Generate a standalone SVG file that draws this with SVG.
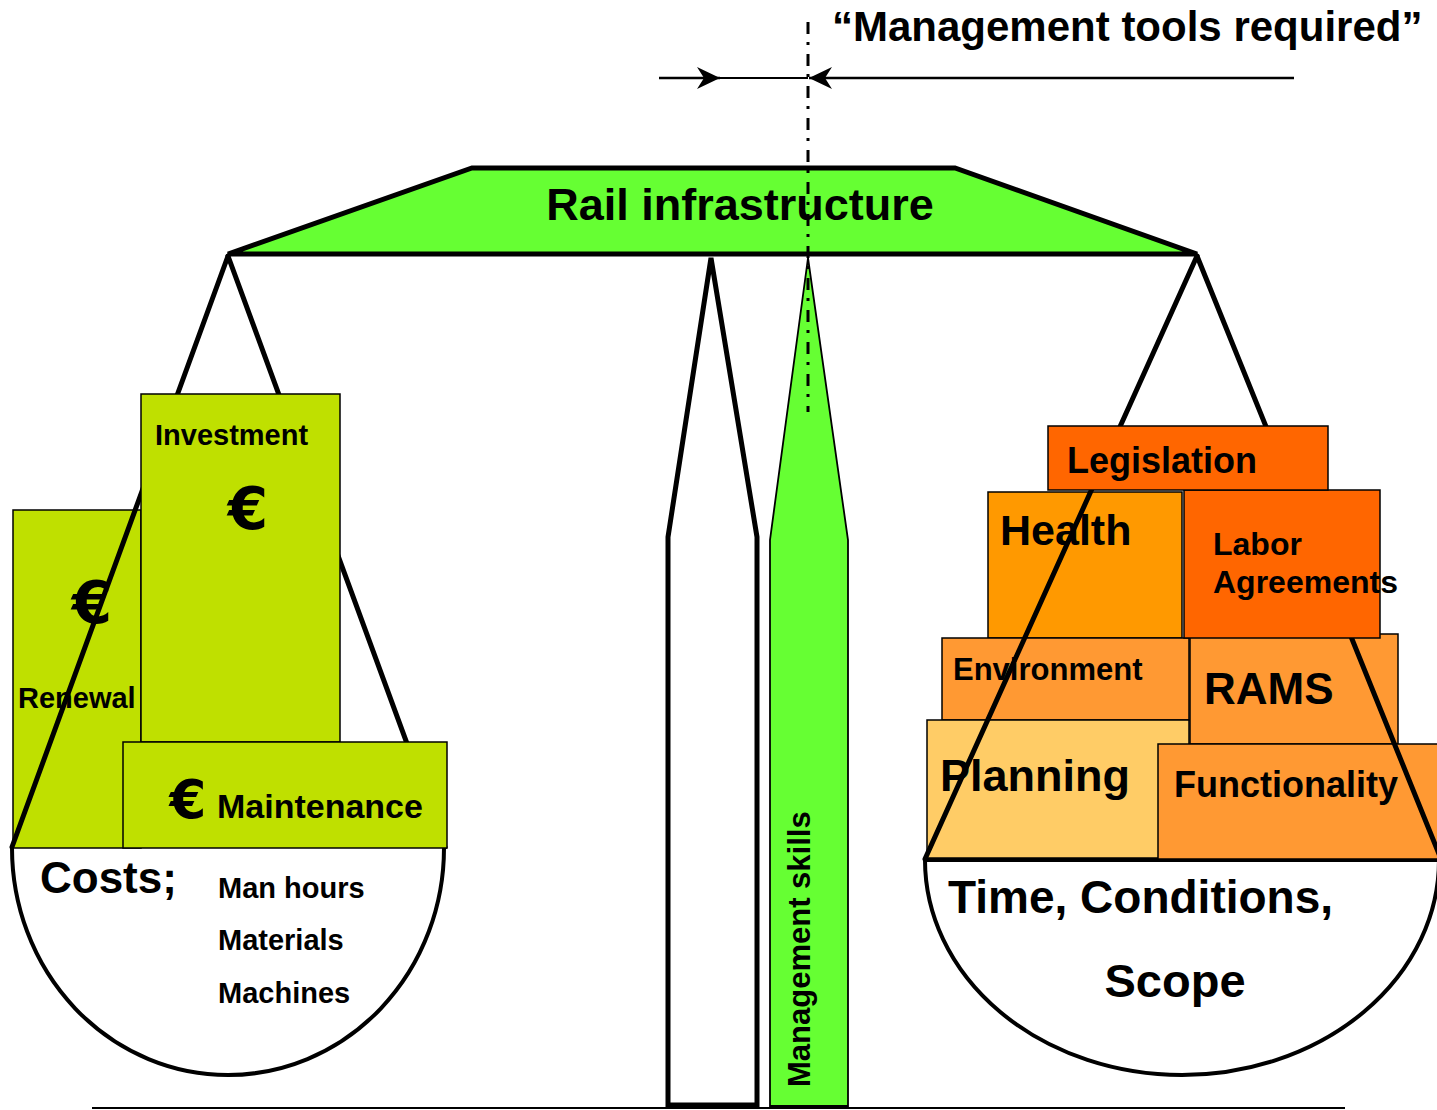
<svg xmlns="http://www.w3.org/2000/svg" width="1437" height="1110" viewBox="0 0 1437 1110">
<style>
text{font-family:"Liberation Sans",Arial,sans-serif;font-weight:bold;fill:#000}
text.eur{font-family:"DejaVu Sans","Liberation Sans",sans-serif;font-weight:bold}
.box{stroke:#000;stroke-width:1.5}
.yg{fill:#BFE000}
.o1{fill:#FF6600}
.o2{fill:#FF9900}
.o3{fill:#FF9933}
.o4{fill:#FFCC66}
.hang{stroke:#000;stroke-width:5;fill:none;stroke-linecap:round}
.bowl{fill:#fff;stroke:#000;stroke-width:4}
</style>
<defs>
<marker id="ah" viewBox="0 0 24 24" refX="23" refY="12" markerWidth="24" markerHeight="24" markerUnits="userSpaceOnUse" orient="auto">
<path d="M23,12 L0,1 L7,12 L0,23 Z" fill="#000"/>
</marker>
</defs>
<rect width="1437" height="1110" fill="#fff"/>

<!-- floor -->
<line x1="92" y1="1108" x2="1345" y2="1108" stroke="#000" stroke-width="2"/>

<!-- pillars -->
<g id="pillar">
<polygon points="711,258 668,537 668,1105 757,1105 757,537" fill="#fff" stroke="#000" stroke-width="5" stroke-linejoin="miter"/>
</g>
<g id="management-skills">
<polygon points="808,258 770,540 770,1106 848,1106 848,540" fill="#66FF33" stroke="#000" stroke-width="1.8"/>
<text transform="translate(810,1087) rotate(-90)" font-size="31">Management skills</text>
</g>

<!-- beam -->
<g id="rail-infrastructure">
<polygon points="472,168 955,168 1197,254 228,254" fill="#66FF33" stroke="#000" stroke-width="5" stroke-linejoin="miter"/>
<text x="740" y="220" font-size="45" text-anchor="middle">Rail infrastructure</text>
</g>

<!-- left pan -->
<g id="left-bowl">
<path class="bowl" d="M12,848 A216,227 0 0 0 444,848"/>
<text x="40" y="893" font-size="44">Costs;</text>
<text x="218" y="898" font-size="29">Man hours</text>
<text x="218" y="950" font-size="29">Materials</text>
<text x="218" y="1003" font-size="29">Machines</text>
</g>
<g id="renewal">
<rect class="box yg" x="13" y="510" width="128" height="338"/>
<text class="eur" x="92" y="623" font-size="58" text-anchor="middle">€</text>
<text x="18" y="708" font-size="29">Renewal</text>
</g>
<g id="left-hangers">
<line class="hang" x1="228" y1="256" x2="12" y2="847"/>
<line class="hang" x1="228" y1="256" x2="445" y2="847"/>
</g>
<g id="investment">
<rect class="box yg" x="141" y="394" width="199" height="348"/>
<text x="155" y="445" font-size="29">Investment</text>
<text class="eur" x="248" y="529" font-size="58" text-anchor="middle">€</text>
</g>
<g id="maintenance">
<rect class="box yg" x="123" y="742" width="324" height="106"/>
<text class="eur" x="188" y="818" font-size="53" text-anchor="middle">€</text>
<text x="217" y="818" font-size="34">Maintenance</text>
</g>

<!-- right pan -->
<g id="right-bowl">
<path class="bowl" d="M925,860 A257,215 0 0 0 1439,860 Z"/>
<text x="948" y="913" font-size="46">Time, Conditions,</text>
<text x="1175" y="997" font-size="47" text-anchor="middle">Scope</text>
</g>
<g id="health">
<rect class="box o2" x="988" y="492" width="194" height="146"/>
<text x="1000" y="545" font-size="43">Health</text>
</g>
<g id="environment">
<rect class="box o3" x="942" y="638" width="247" height="82"/>
<text x="953" y="680" font-size="31">Environment</text>
</g>
<g id="rams">
<rect class="box o3" x="1190" y="634" width="208" height="110"/>
<text x="1204" y="704" font-size="44">RAMS</text>
</g>
<g id="planning">
<rect class="box o4" x="927" y="720" width="262" height="138"/>
<text x="940" y="791" font-size="45">Planning</text>
</g>
<g id="functionality">
<rect class="box o3" x="1158" y="744" width="285" height="115"/>
<text x="1174" y="797" font-size="36">Functionality</text>
</g>
<g id="right-hangers">
<line class="hang" x1="1197" y1="256" x2="925" y2="859"/>
<line class="hang" x1="1197" y1="256" x2="1441" y2="859"/>
</g>
<g id="labor-agreements">
<rect class="box o1" x="1184" y="490" width="196" height="148"/>
<text x="1213" y="555" font-size="32">Labor</text>
<text x="1213" y="593" font-size="32">Agreements</text>
</g>
<g id="legislation">
<rect class="box o1" x="1048" y="426" width="280" height="64"/>
<text x="1067" y="473" font-size="36">Legislation</text>
</g>

<!-- top annotation -->
<g id="connectors">
<line x1="720" y1="78" x2="808" y2="78" stroke="#000" stroke-width="2"/>
<line x1="659" y1="78" x2="720" y2="78" stroke="#000" stroke-width="2.5" marker-end="url(#ah)"/>
<line x1="1294" y1="78" x2="809" y2="78" stroke="#000" stroke-width="2.5" marker-end="url(#ah)"/>
<line x1="808" y1="22" x2="808" y2="412" stroke="#000" stroke-width="3" stroke-dasharray="12 8 3 9"/>
</g>
<g id="management-tools">
<text x="832" y="41" font-size="42">“Management tools required”</text>
</g>
</svg>
